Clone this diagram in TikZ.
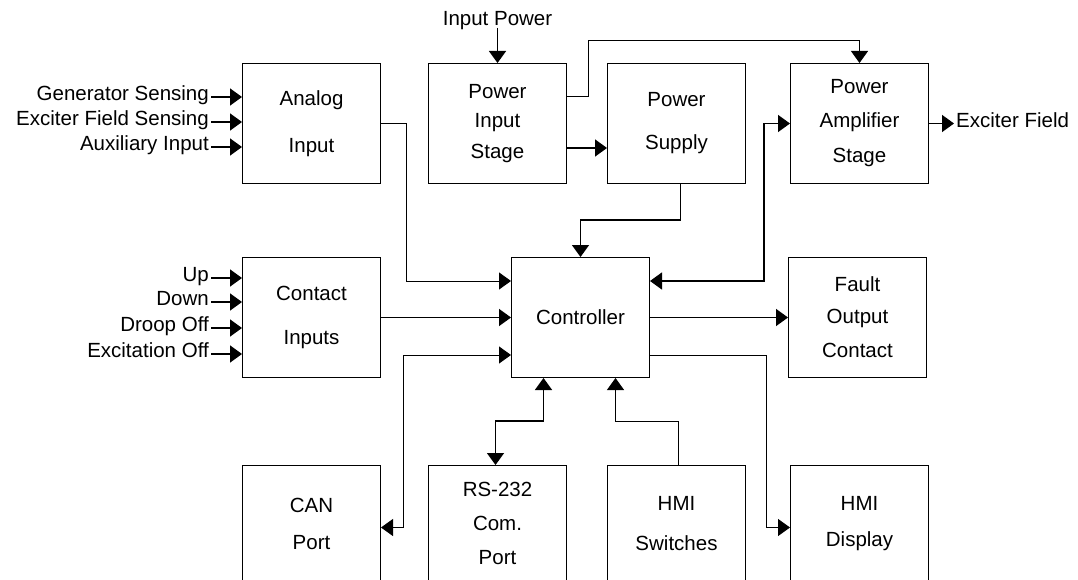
\documentclass[tikz,border=0pt]{standalone}
\usepackage{fontspec}
\setmainfont{Liberation Sans}
\usetikzlibrary{positioning, arrows.meta}

\begin{document}
\begin{tikzpicture}[x=1pt, y=-1pt, ->, >={Triangle[length=12pt,width=17pt]},
    font=\fontsize{20.5}{29}\selectfont,
    box/.style={draw, line width=1pt, minimum width=138pt, minimum height=120pt, inner sep=0pt, align=center},
    lowbox/.style={box, minimum height=116pt},
    lbl/.style={inner sep=2pt, text height=0.72em, text depth=0pt},
    wire/.style={line width=1.5pt},
    wirethin/.style={line width=1pt}]
      \path[use as bounding box, fill=white] (0,0) rectangle (1078,580);

      % blocks
      \node[box] (ain) at (311.5,123.5) {Analog\\[18pt]Input};
      \node[box, right=47pt of ain] (pis) {Power\\Input\\[2pt]Stage};
      \node[box, right=40pt of pis] (psu) {Power\\[14pt]Supply};
      \node[box, right=44pt of psu] (pamp) {Power\\[5pt]Amplifier\\[6pt]Stage};

      \node[box, below=73pt of ain] (cin) {Contact\\[15pt]Inputs};
      \node[box, right=130pt of cin] (ctrl) {Controller};
      \node[box, right=138pt of ctrl] (fault) {Fault\\[3pt]Output\\[5pt]Contact};

      \node[lowbox, below=87pt of cin] (can) {CAN\\[8pt]Port};
      \node[lowbox, right=47pt of can] (rs) {RS-232\\[5pt]Com.\\[5pt]Port};
      \node[lowbox, right=40pt of rs] (hsw) {HMI\\[11pt]Switches};
      \node[lowbox, right=44pt of hsw] (hdisp) {HMI\\[7pt]Display};

      % signal names
      \node[lbl, anchor=east] (gen) at (211,97) {Generator Sensing};
      \node[lbl, anchor=east] (exs) at (211,122) {Exciter Field Sensing};
      \node[lbl, anchor=east] (aux) at (211,147) {Auxiliary Input};
      \node[lbl, anchor=east] (up) at (211,278) {Up};
      \node[lbl, anchor=east] (down) at (211,302) {Down};
      \node[lbl, anchor=east] (droop) at (211,328) {Droop Off};
      \node[lbl, anchor=east] (exoff) at (211,354) {Excitation Off};
      \node[lbl, above=35pt of pis] (ipw) {Input Power};
      \node[lbl, right=25pt of pamp] (exf) {Exciter Field};

      % inputs
      \draw[wire] (gen.east) -- (gen.east -| ain.west);
      \draw[wire] (exs.east) -- (exs.east -| ain.west);
      \draw[wire] (aux.east) -- (aux.east -| ain.west);
      \draw[wire] (up.east) -- (up.east -| cin.west);
      \draw[wire] (down.east) -- (down.east -| cin.west);
      \draw[wire] (droop.east) -- (droop.east -| cin.west);
      \draw[wire] (exoff.east) -- (exoff.east -| cin.west);

      % power path
      \draw[wire] (ipw.south) -- (pis.north);
      \draw[wire] ([yshift=-24.5pt]pis.east) -- ([yshift=-24.5pt]pis.east -| psu.west);
      \draw[wirethin] ([yshift=26.5pt]pis.east) -- ++(21,0) |- ([yshift=22pt]pamp.north) -- (pamp.north);
      \draw[wire] ([xshift=4pt]psu.south) |- ([yshift=37pt]ctrl.north) -- (ctrl.north);
      \draw[wire] (pamp) -- (exf);

      % controller links
      \draw[wirethin] (ain.east) -- ++(25.5,0) |- ([yshift=36.5pt]ctrl.west);
      \draw[wire] (cin) -- (ctrl);
      \draw[wirethin, <->] ([yshift=-4pt]can.east) -- ++(22,0) |- ([yshift=-37.5pt]ctrl.west);
      \draw[wire, <->] ([xshift=-2pt]rs.north) -- ++(0,-44) -| ([xshift=-37pt]ctrl.south);
      \draw[wirethin] ([xshift=2pt]hsw.north) -- ++(0,-44) -| ([xshift=35pt]ctrl.south);
      \draw[wire] (ctrl) -- (fault);
      \draw[wirethin] ([yshift=-37.5pt]ctrl.east) -- ++(116,0) |- ([yshift=-4pt]hdisp.west);
      \draw[wire, <->] ([yshift=36.5pt]ctrl.east) -- ++(114,0) |- (pamp.west);
    \end{tikzpicture}
\end{document}
